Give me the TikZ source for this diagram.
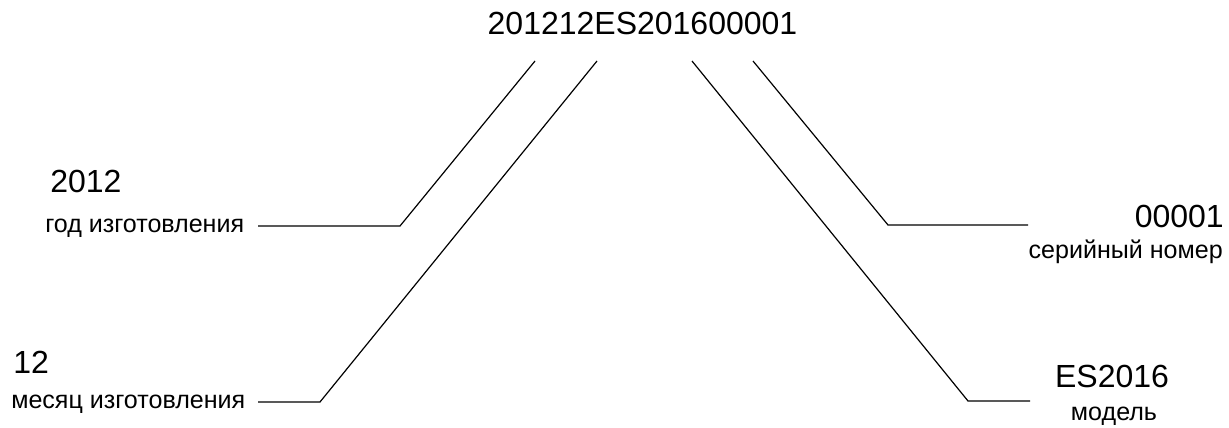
\documentclass[tikz,border=0pt]{standalone}
\usepackage{fontspec}
\setmainfont{Liberation Sans}
\tikzset{
    code/.style={font=\fontsize{24}{28}\selectfont, inner sep=0pt},
    caption/.style={font=\fontsize{18.8}{22}\selectfont, inner sep=0pt},
    lead/.style={line width=0.9pt}
}
\begin{document}
\begin{tikzpicture}[x=0.75pt, y=-0.75pt]
        \useasboundingbox (0, 0) rectangle (1229, 428);

        \node[code, anchor=base] (serial) at (642.5, 35) {201212ES201600001};

        \node[code, anchor=base west] (year) at (50, 192) {2012};
        \node[caption, anchor=base west] (yearlbl) at (45, 232) {год изготовления};
        \node[code, anchor=base west] (month) at (13, 373) {12};
        \node[caption, anchor=base west] (monthlbl) at (11, 408) {месяц изготовления};

        \node[code, anchor=base east] (number) at (1224, 227) {00001};
        \node[caption, anchor=base east] (numberlbl) at (1223, 258) {серийный номер};
        \node[code, anchor=base] (model) at (1112, 387) {ES2016};
        \node[caption, anchor=base] (modellbl) at (1114, 420) {модель};

        % ends of the leaders
        \coordinate (y1) at (535, 61);  \coordinate (y2) at (400, 226); \coordinate (y3) at (258, 226);
        \coordinate (m1) at (597, 61);  \coordinate (m2) at (320, 402); \coordinate (m3) at (258, 402);
        \coordinate (d1) at (692, 61);  \coordinate (d2) at (968, 401); \coordinate (d3) at (1030, 401);
        \coordinate (n1) at (753, 61);  \coordinate (n2) at (888, 225); \coordinate (n3) at (1028, 225);

        \draw[lead] (y1) -- (y2) -- (y3);
        \draw[lead] (m1) -- (m2) -- (m3);
        \draw[lead] (d1) -- (d2) -- (d3);
        \draw[lead] (n1) -- (n2) -- (n3);
    \end{tikzpicture}
\end{document}
